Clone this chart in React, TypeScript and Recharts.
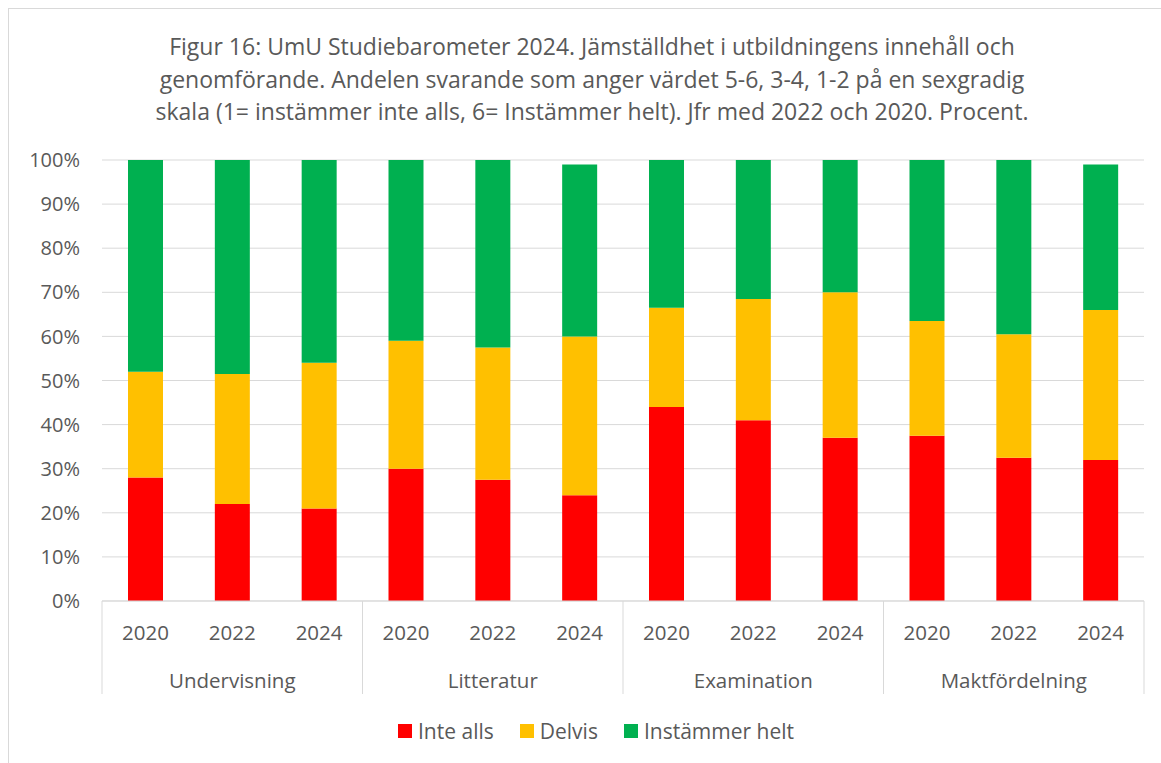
import { BarChart, Bar, XAxis, YAxis, CartesianGrid } from "recharts"

const groups = ["Undervisning", "Litteratur", "Examination", "Maktfördelning"]
const years = ["2020", "2022", "2024"]

// andel i procent, 3 år per grupp
const inteAlls = [28, 22, 21, 30, 27.5, 24, 44, 41, 37, 37.5, 32.5, 32]
const delvis = [24, 29.5, 33, 29, 30, 36, 22.5, 27.5, 33, 26, 28, 34]
const instammerHelt = [48, 48.5, 46, 41, 42.5, 39, 33.5, 31.5, 30, 36.5, 39.5, 33]

const yTicks = [0, 10, 20, 30, 40, 50, 60, 70, 80, 90, 100]

const titleLines = [
  "Figur 16: UmU Studiebarometer 2024. Jämställdhet i utbildningens innehåll och",
  "genomförande. Andelen svarande som anger värdet 5-6, 3-4, 1-2 på en sexgradig",
  "skala (1= instämmer inte alls, 6= Instämmer helt). Jfr med 2022 och 2020. Procent."
]

const RED = "#FF0000"
const YELLOW = "#FFC000"
const GREEN = "#00B050"
const TEXT = "#595959"
const GRID = "#D9D9D9"
const FONT = "'Open Sans', sans-serif"

const W = 1161
const H = 763
const M = { top: 160, right: 17, left: 0, bottom: 0 }
const Y_AXIS_W = 102
const PLOT_W = W - M.left - M.right - Y_AXIS_W

const data = groups.flatMap((g, gi) =>
  years.map((yr, yi) => {
    const i = gi * 3 + yi
    return {
      key: `${g}-${yr}`,
      group: g,
      year: yr,
      inteAlls: inteAlls[i],
      delvis: delvis[i],
      instammerHelt: instammerHelt[i]
    }
  })
)

function CategoryTick(props: any) {
  const { x, y, payload } = props
  const idx = payload.index
  const row = data[idx]
  const band = PLOT_W / data.length
  return (
    <g>
      <text x={x} y={y + 39} textAnchor="middle" fill={TEXT} fontSize={20.5} fontFamily={FONT}>
        {row.year}
      </text>
      {idx % 3 === 1 && (
        <text x={x} y={y + 87} textAnchor="middle" fill={TEXT} fontSize={20.5} fontFamily={FONT}>
          {row.group}
        </text>
      )}
      {idx % 3 === 0 && (
        <line x1={x - band / 2} x2={x - band / 2} y1={y} y2={y + 93} stroke={GRID} />
      )}
      {idx === data.length - 1 && (
        <line x1={x + band / 2} x2={x + band / 2} y1={y} y2={y + 93} stroke={GRID} />
      )}
    </g>
  )
}

const legendItems = [
  { label: "Inte alls", color: RED },
  { label: "Delvis", color: YELLOW },
  { label: "Instämmer helt", color: GREEN }
]

export default function App() {
  return (
    <div style={{ position: "relative", width: W, height: H, overflow: "hidden", background: "#fff" }}>
      <style>{"body{margin:0}"}</style>
      <div
        style={{
          position: "absolute",
          left: 8,
          top: 8,
          width: W - 8,
          height: H - 8,
          borderLeft: `1px solid ${GRID}`,
          borderTop: `1px solid ${GRID}`,
          boxSizing: "border-box"
        }}
      />
      <div
        style={{
          position: "absolute",
          left: 42,
          width: 1100,
          top: 30,
          textAlign: "center",
          fontFamily: FONT,
          fontSize: 23,
          lineHeight: "32.5px",
          color: TEXT
        }}
      >
        {titleLines.map((l) => (
          <div key={l} style={{ whiteSpace: "nowrap" }}>{l}</div>
        ))}
      </div>
      <div style={{ position: "absolute", left: 0, top: 0 }}>
        <BarChart width={W} height={H} data={data} margin={M} barSize={35}>
          <CartesianGrid vertical={false} stroke={GRID} strokeWidth={1} />
          <XAxis
            dataKey="key"
            height={162}
            interval={0}
            tickLine={false}
            tickSize={0}
            tickMargin={0}
            axisLine={{ stroke: GRID }}
            tick={<CategoryTick />}
          />
          <YAxis
            width={Y_AXIS_W}
            domain={[0, 100]}
            ticks={yTicks}
            interval={0}
            axisLine={false}
            tickLine={false}
            tickSize={0}
            tickMargin={22}
            tickFormatter={(v: number) => `${v}%`}
            tick={{ fill: TEXT, fontSize: 20, fontFamily: FONT }}
          />
          <Bar dataKey="inteAlls" name="Inte alls" stackId="a" fill={RED} isAnimationActive={false} />
          <Bar dataKey="delvis" name="Delvis" stackId="a" fill={YELLOW} isAnimationActive={false} />
          <Bar dataKey="instammerHelt" name="Instämmer helt" stackId="a" fill={GREEN} isAnimationActive={false} />
        </BarChart>
      </div>
      <div
        style={{
          position: "absolute",
          top: 716,
          left: 0,
          width: W,
          display: "flex",
          justifyContent: "center",
          paddingLeft: 31,
          boxSizing: "border-box",
          gap: 26,
          fontFamily: FONT,
          fontSize: 21,
          color: TEXT,
          lineHeight: "30px"
        }}
      >
        {legendItems.map((it) => (
          <div key={it.label} style={{ display: "flex", alignItems: "center", gap: 6 }}>
            <span style={{ width: 14, height: 14, background: it.color, display: "inline-block" }} />
            <span>{it.label}</span>
          </div>
        ))}
      </div>
    </div>
  )
}
